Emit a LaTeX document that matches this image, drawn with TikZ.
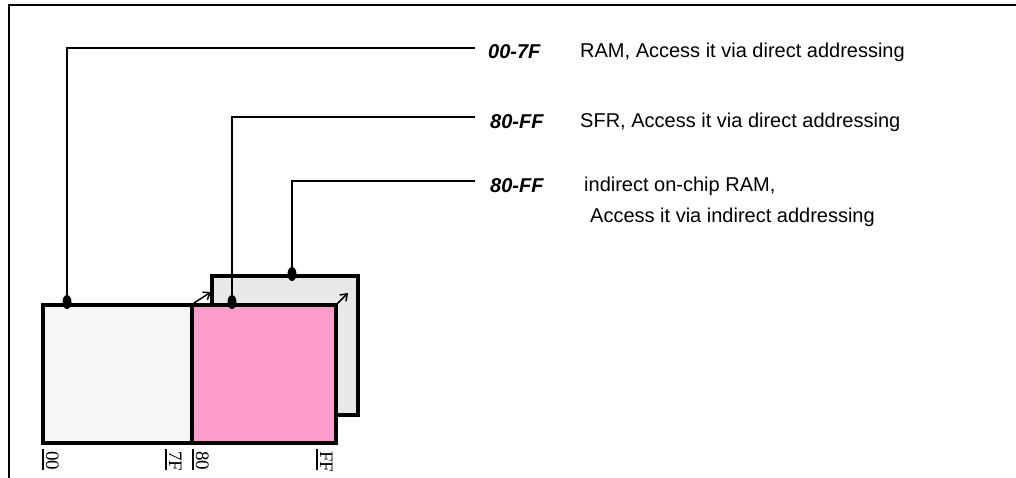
\documentclass[tikz,border=0pt]{standalone}
\usepackage{fontspec}
\setmainfont{Liberation Sans}
\newfontfamily\serifaddr{Liberation Serif}
\usetikzlibrary{arrows.meta,calc,shapes.geometric}
\definecolor{ramfill}{HTML}{F7F7F7}
\definecolor{sfrfill}{HTML}{FC9CCC}
\definecolor{indfill}{HTML}{E8E8E8}
\tikzset{
  memblock/.style={draw=black, line width=4pt, inner sep=0pt, outer sep=0pt},
  pinmark/.style={fill=black, ellipse, minimum width=9pt, minimum height=14pt, inner sep=0pt},
  leader/.style={line width=2pt, black},
  rangelbl/.style={font=\fontsize{20}{24}\selectfont\bfseries\itshape, anchor=west, inner sep=0pt},
  desclbl/.style={font=\fontsize{20}{24}\selectfont, anchor=west, inner sep=0pt, align=left},
  addrlbl/.style={font=\serifaddr\fontsize{19}{22}\selectfont, rotate=-90, anchor=base west, inner sep=0pt},
  addrtick/.style={line width=1.5pt},
  slidearrow/.style={line width=1.5pt, -{Straight Barb[length=6pt,width=9pt]}}
}
\begin{document}
\begin{tikzpicture}[x=1pt,y=-1pt]
\useasboundingbox (0,0) rectangle (1016,478);
% frame
\draw[line width=2pt] (9,478) -- (9,5) -- (1016,5);
% memory blocks
\node[memblock, fill=indfill, minimum width=146pt, minimum height=139pt] (b3) at (285,345.5) {};
\node[memblock, fill=ramfill, minimum width=149pt, minimum height=138pt] (b1) at (117.5,374) {};
\node[memblock, fill=sfrfill, minimum width=144pt, minimum height=138pt] (b2) at (264,374) {};
% slide arrows
\coordinate (s1a) at ($(b2.north west)+(2,-2)$);
\coordinate (s1b) at ($(b2.north west)+(19,-13)$);
\coordinate (s2a) at ($(b2.north east)+(1,-1)$);
\coordinate (s2b) at ($(b2.north east)+(12,-12)$);
\draw[slidearrow] (s1a) -- (s1b);
\draw[slidearrow] (s2a) -- (s2b);
% pins
\node[pinmark] (d1) at (67,302) {};
\node[pinmark] (d2) at (232,302) {};
\node[pinmark] (d3) at (292,274) {};
% leader ends
\coordinate (t1) at (475,48);
\coordinate (t2) at (475,117);
\coordinate (t3) at (475,181);
\draw[leader] (d1.center) |- (t1);
\draw[leader] (d2.center) |- (t2);
\draw[leader] (d3.center) |- (t3);
% labels
\node[rangelbl] (r1) at (488,52) {00-7F};
\node[rangelbl] (r2) at (490,122) {80-FF};
\node[rangelbl] (r3) at (490,186) {80-FF};
\node[desclbl] (e1) at (580,52) {RAM, Access it via direct addressing};
\node[desclbl] (e2) at (580,122) {SFR, Access it via direct addressing};
\node[desclbl] (e3) at (584,186) {indirect on-chip RAM,};
\node[desclbl] (e4) at (590,217) {Access it via indirect addressing};
% address ticks
\draw[addrtick] (43,449) -- (43,470);
\node[addrlbl] (a1) at (46,451) {00};
\draw[addrtick] (166,449) -- (166,470);
\node[addrlbl] (a2) at (169,451) {7F};
\draw[addrtick] (193,449) -- (193,470);
\node[addrlbl] (a3) at (196,451) {80};
\draw[addrtick] (317,449) -- (317,470);
\node[addrlbl] (a4) at (320,451) {FF};
\end{tikzpicture}
\end{document}
